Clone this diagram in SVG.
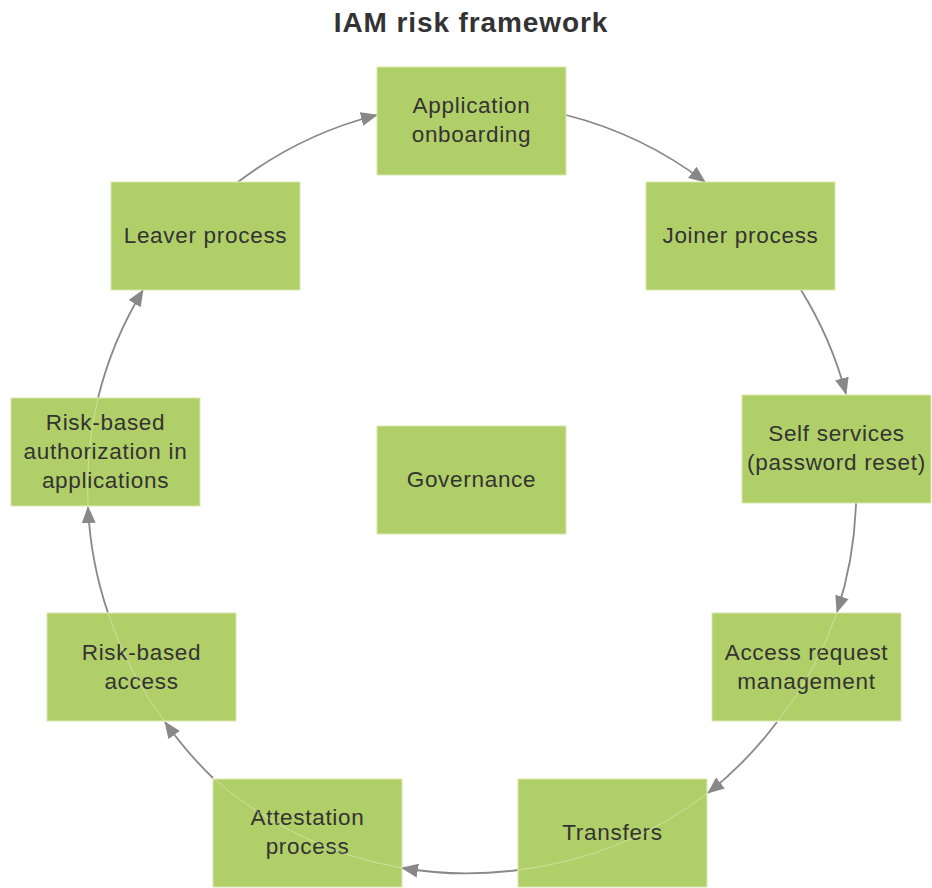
<svg xmlns="http://www.w3.org/2000/svg" width="932" height="888" viewBox="0 0 932 888">
  <style>
    .node rect { fill: #b1cf68; stroke: #d9e8b0; stroke-width: 1; }
    .node text { font-family: "Liberation Sans", Arial, sans-serif; font-size: 22.5px; letter-spacing: 0.7px; fill: #333333; text-anchor: middle; }
    .title { font-family: "Liberation Sans", Arial, sans-serif; font-size: 28px; letter-spacing: 0.9px; font-weight: bold; fill: #333333; text-anchor: middle; }
    .edge { fill: none; stroke: #888888; stroke-width: 1.8; marker-end: url(#arrow); }
    .trace { fill: none; stroke: #ffffff; stroke-opacity: 0.35; stroke-width: 1; }
  </style>
  <defs>
    <marker id="arrow" markerUnits="userSpaceOnUse" markerWidth="17" markerHeight="15" viewBox="0 0 17 15" refX="16" refY="7.5" orient="auto">
      <path d="M0,0.5 L17,7.5 L0,14.5 z" fill="#888888"/>
    </marker>
  </defs>

  <rect width="932" height="888" fill="#ffffff"/>
  <text class="title" x="471" y="32">IAM risk framework</text>

  <!-- cycle connectors, arcs of one circle -->
  <g id="connectors">
    <path class="edge" d="M566,115 A386,386 0 0 1 705,182"/>
    <path class="edge" d="M801,290 A386,386 0 0 1 846,394"/>
    <path class="edge" d="M856,503 A386,386 0 0 1 837,612"/>
    <path class="edge" d="M777,722 A386,386 0 0 1 708,793"/>
    <path class="edge" d="M518,870 A386,386 0 0 1 402,868"/>
    <path class="edge" d="M213,778 A386,386 0 0 1 165,722"/>
    <path class="edge" d="M108,613 A386,386 0 0 1 88,507"/>
    <path class="edge" d="M98,398 A386,386 0 0 1 143,290"/>
    <path class="edge" d="M238,182 A386,386 0 0 1 377,115"/>
  </g>

  <g id="app-onboarding" class="node">
    <rect x="377" y="67" width="189" height="108"/>
    <text x="471.5" y="113">Application</text>
    <text x="471.5" y="142">onboarding</text>
  </g>
  <g id="joiner" class="node">
    <rect x="646" y="182" width="189" height="108"/>
    <text x="740.5" y="243">Joiner process</text>
  </g>
  <g id="self-services" class="node">
    <rect x="742" y="395" width="189" height="108"/>
    <text x="836.5" y="441">Self services</text>
    <text x="836.5" y="470">(password reset)</text>
  </g>
  <g id="access-request" class="node">
    <rect x="712" y="613" width="189" height="108"/>
    <text x="806.5" y="660">Access request</text>
    <text x="806.5" y="689">management</text>
  </g>
  <g id="transfers" class="node">
    <rect x="518" y="779" width="189" height="108"/>
    <text x="612.5" y="840">Transfers</text>
  </g>
  <g id="attestation" class="node">
    <rect x="213" y="779" width="189" height="108"/>
    <text x="307.5" y="825">Attestation</text>
    <text x="307.5" y="854">process</text>
  </g>
  <g id="risk-based-access" class="node">
    <rect x="47" y="613" width="189" height="108"/>
    <text x="141.5" y="660">Risk-based</text>
    <text x="141.5" y="689">access</text>
  </g>
  <g id="risk-based-authorization" class="node">
    <rect x="11" y="398" width="189" height="108"/>
    <text x="105.5" y="430">Risk-based</text>
    <text x="105.5" y="459">authorization in</text>
    <text x="105.5" y="488">applications</text>
  </g>
  <g id="leaver" class="node">
    <rect x="111" y="182" width="189" height="108"/>
    <text x="205.5" y="243">Leaver process</text>
  </g>
  <g id="governance" class="node">
    <rect x="377" y="426" width="189" height="108"/>
    <text x="471.5" y="487">Governance</text>
  </g>

  <!-- faint path traces showing through the lower nodes -->
  <g id="connector-traces">
    <path class="trace" d="M837,613 A386,386 0 0 1 777,722"/>
    <path class="trace" d="M708,793 A386,386 0 0 1 518,870"/>
    <path class="trace" d="M402,868 A386,386 0 0 1 213,778"/>
    <path class="trace" d="M165,722 A386,386 0 0 1 108,613"/>
    <path class="trace" d="M88,507 A386,386 0 0 1 98,398"/>
  </g>
</svg>
